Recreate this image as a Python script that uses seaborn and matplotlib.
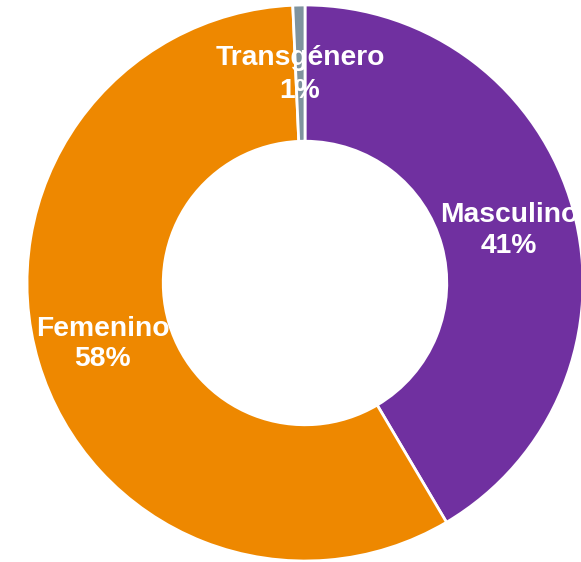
import matplotlib
matplotlib.use("Agg")
import matplotlib.pyplot as plt
import seaborn as sns

categories = ["Masculino", "Femenino", "Transgénero"]
values = [41.5, 57.8, 0.7]
pct_labels = ["41%", "58%", "1%"]
colors = ["#7030A0", "#EE8800", "#7F939E"]

sns.set_theme(style="white")
plt.rcParams['font.family'] = ['Liberation Sans', 'DejaVu Sans']

W, H = 581, 562
fig = plt.figure(figsize=(W / 100, H / 100), dpi=100)
ax = fig.add_axes([0, 0, 1, 1])

wedges, _ = ax.pie(values, colors=colors, startangle=90, counterclock=False,
                   radius=1.0,
                   wedgeprops=dict(width=0.49, edgecolor="white", linewidth=2))

# pixel mapping: center at (305, 283), radius 278 px
cx, cy, R = 305, 283, 278
ax.set_xlim(-cx / R, (W - cx) / R)
ax.set_ylim(-(H - cy) / R, cy / R)
ax.set_aspect('auto')
ax.axis('off')

label_pos = [(0.734, 0.245, 0.134), (-0.727, -0.165, -0.273), (-0.018, 0.808, 0.692)]
for cat, pct, (x, y1, y2) in zip(categories, pct_labels, label_pos):
    ax.text(x, y1, cat, ha='center', va='center', fontsize=20.3,
            fontweight='bold', color='white')
    ax.text(x, y2, pct, ha='center', va='center', fontsize=20.3,
            fontweight='bold', color='white')

fig.savefig("out.png", dpi=100)
